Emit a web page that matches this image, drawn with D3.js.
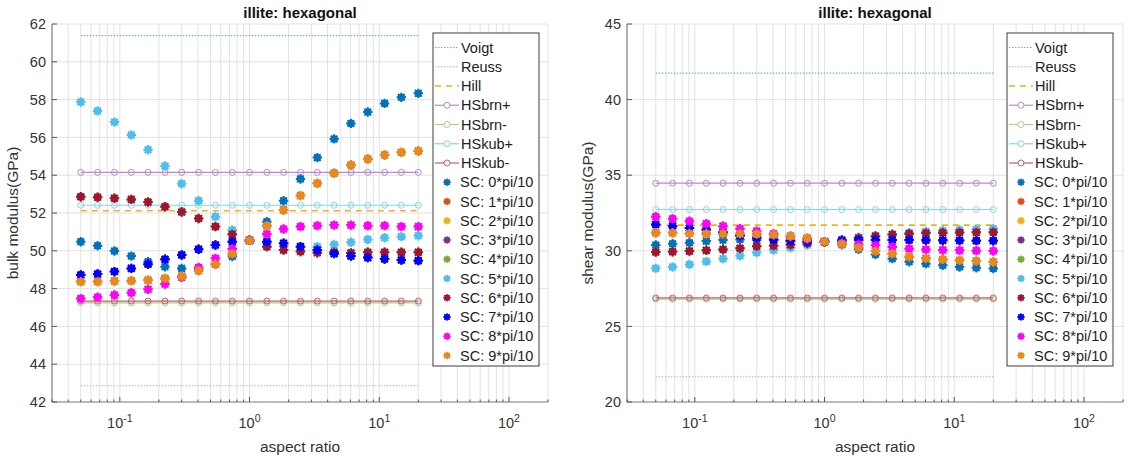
<!DOCTYPE html>
<html>
<head>
<meta charset="utf-8">
<script src="https://cdn.jsdelivr.net/npm/d3@7"></script>
<style>
  body { margin: 0; background: #fff; }
  svg { font-family: "Liberation Sans", Arial, sans-serif; }
</style>
</head>
<body>
<svg id="chart" width="1128" height="459"></svg>
<script>
// aspect ratios (x values, log spaced 0.05 .. 20)
var aspect = [0.05, 0.0674, 0.0909, 0.1226, 0.165, 0.223, 0.300, 0.405, 0.546, 0.736, 1,
    1.36, 1.83, 2.47, 3.33, 4.49, 6.05, 8.16, 11.0, 14.8, 20];

// bounds, one value each (drawn as flat lines across the aspect ratios)
var boundNames = ["Voigt", "Reuss", "Hill", "HSbrn+", "HSbrn-", "HSkub+", "HSkub-"];
var boundK = [61.38, 42.86, 52.12, 54.15, 47.24, 52.41, 47.34];
var boundG = [41.75, 21.67, 31.70, 34.47, 26.80, 32.73, 26.88];

// self-consistent results, bulk modulus (GPa)
var scK0 = [50.48, 50.27, 49.99, 49.72, 49.42, 49.16, 49.07, 49.05, 49.30, 49.70, 50.55,
    51.54, 52.65, 53.80, 54.93, 55.92, 56.74, 57.34, 57.80, 58.12, 58.33];
var scK5 = [57.87, 57.40, 56.81, 56.13, 55.35, 54.49, 53.55, 52.65, 51.80, 51.10, 50.55,
    50.40, 50.25, 50.20, 50.22, 50.33, 50.45, 50.60, 50.69, 50.75, 50.80];
var scK6 = [52.86, 52.83, 52.78, 52.72, 52.58, 52.33, 52.05, 51.71, 51.28, 50.87, 50.55,
    50.22, 50.04, 49.96, 49.90, 49.93, 49.89, 49.92, 49.92, 49.92, 49.92];
var scK7 = [48.72, 48.77, 48.90, 49.07, 49.29, 49.55, 49.78, 50.08, 50.31, 50.48, 50.55,
    50.48, 50.40, 50.22, 50.04, 49.85, 49.72, 49.64, 49.57, 49.51, 49.48];
var scK8 = [47.47, 47.54, 47.66, 47.78, 47.96, 48.24, 48.60, 49.12, 49.60, 50.10, 50.55,
    50.89, 51.15, 51.28, 51.33, 51.36, 51.36, 51.33, 51.33, 51.28, 51.28];
var scK9 = [48.37, 48.37, 48.40, 48.42, 48.45, 48.54, 48.66, 48.95, 49.29, 49.84, 50.55,
    51.33, 52.16, 52.92, 53.57, 54.10, 54.54, 54.86, 55.07, 55.21, 55.28];
// the angles k*pi/10 and (10-k)*pi/10 plot on top of each other
var scK1 = scK9, scK2 = scK8, scK3 = scK7, scK4 = scK6;

// self-consistent results, shear modulus (GPa)
var scG0 = [30.38, 30.47, 30.53, 30.64, 30.71, 30.75, 30.73, 30.70, 30.67, 30.63, 30.60,
    30.40, 30.10, 29.76, 29.48, 29.28, 29.15, 29.04, 28.93, 28.88, 28.83];
var scG5 = [28.84, 28.93, 29.10, 29.30, 29.48, 29.67, 29.88, 30.05, 30.20, 30.38, 30.60,
    30.75, 30.90, 31.00, 31.10, 31.20, 31.27, 31.33, 31.38, 31.42, 31.46];
var scG6 = [29.92, 29.94, 29.98, 30.03, 30.09, 30.17, 30.30, 30.34, 30.40, 30.50, 30.60,
    30.70, 30.85, 30.97, 31.08, 31.13, 31.17, 31.19, 31.21, 31.22, 31.23];
var scG7 = [31.74, 31.63, 31.50, 31.39, 31.22, 31.00, 30.86, 30.74, 30.66, 30.60, 30.60,
    30.68, 30.72, 30.71, 30.72, 30.71, 30.70, 30.69, 30.68, 30.67, 30.66];
var scG8 = [32.25, 32.12, 31.96, 31.79, 31.63, 31.46, 31.30, 31.12, 30.95, 30.78, 30.60,
    30.50, 30.42, 30.36, 30.25, 30.14, 30.09, 30.05, 30.03, 30.01, 29.99];
var scG9 = [31.19, 31.19, 31.15, 31.13, 31.13, 31.12, 31.10, 31.05, 30.97, 30.84, 30.60,
    30.45, 30.20, 29.98, 29.81, 29.61, 29.50, 29.43, 29.37, 29.32, 29.26];
var scG1 = scG9, scG2 = scG8, scG3 = scG7, scG4 = scG6;

var scNames = ["SC: 0*pi/10", "SC: 1*pi/10", "SC: 2*pi/10", "SC: 3*pi/10", "SC: 4*pi/10",
    "SC: 5*pi/10", "SC: 6*pi/10", "SC: 7*pi/10", "SC: 8*pi/10", "SC: 9*pi/10"];

var kTicks = [42, 44, 46, 48, 50, 52, 54, 56, 58, 60, 62];
var gTicks = [20, 25, 30, 35, 40, 45];
var xMajor = [0.1, 1, 10, 100];
var xExp = ["-1", "0", "1", "2"];

var boundColors = ["#6fb0e0", "#f2a184", "#edb120", "#b68bc6", "#a9d18f", "#88d2f2", "#c26270"];
var boundDash = ["1.5,1.5", "1.5,1.5", "6,5", null, null, null, null];
var scColors = ["#0072bd", "#d95319", "#edb120", "#7e2f8e", "#77ac30",
    "#4dbeee", "#a2142f", "#0000ff", "#ff00ff", "#e8891c"];

var svg = d3.select("#chart");

function starPath(r) {
    var a = r * 0.7071;
    return "M" + (-r) + ",0L" + r + ",0M0," + (-r) + "L0," + r +
        "M" + (-a) + "," + (-a) + "L" + a + "," + a + "M" + (-a) + "," + a + "L" + a + "," + (-a);
}

function drawPanel(p) {
    var g = svg.append("g");
    var x = d3.scaleLog().domain([0.03, 200]).range([p.left, p.left + 496]);
    var y = d3.scaleLinear().domain(p.yDomain).range([402, 24]);

    // minor + major vertical grid
    var minor = [];
    [0.01, 0.1, 1, 10, 100].forEach(function (dec) {
        for (var m = 1; m <= 9; m++) {
            var v = dec * m;
            if (v >= 0.03 && v <= 200) minor.push(v);
        }
    });
    g.selectAll(".vgrid").data(minor).enter().append("line")
        .attr("x1", d => x(d)).attr("x2", d => x(d))
        .attr("y1", 24).attr("y2", 402)
        .attr("stroke", "#e2e2e2").attr("stroke-width", 1);
    g.selectAll(".hgrid").data(p.yTicks).enter().append("line")
        .attr("x1", p.left).attr("x2", p.left + 496)
        .attr("y1", d => y(d)).attr("y2", d => y(d))
        .attr("stroke", "#e2e2e2").attr("stroke-width", 1);

    // bounds
    p.bounds.forEach(function (val, i) {
        var pts = aspect.map(a => [x(a), y(val)]);
        g.append("path").attr("d", d3.line()(pts))
            .attr("fill", "none").attr("stroke", boundColors[i])
            .attr("stroke-width", i == 2 ? 1.6 : 1.2)
            .attr("stroke-dasharray", boundDash[i]);
        if (i >= 3) {
            g.selectAll(".hs" + i).data(aspect).enter().append("circle")
                .attr("cx", d => x(d)).attr("cy", y(val)).attr("r", 3)
                .attr("fill", "none").attr("stroke", boundColors[i]).attr("stroke-width", 1);
        }
    });

    // self-consistent points
    p.sc.forEach(function (vals, k) {
        var pg = g.append("g");
        var pts = pg.selectAll("g").data(vals).enter().append("g")
            .attr("transform", (d, i) => "translate(" + x(aspect[i]) + "," + y(d) + ")");
        pts.append("circle").attr("r", 3.7).attr("fill", scColors[k]);
        pts.append("path").attr("d", starPath(4.7))
            .attr("stroke", scColors[k]).attr("stroke-width", 2).attr("fill", "none");
    });

    // axes
    g.append("line").attr("x1", p.left).attr("x2", p.left).attr("y1", 24).attr("y2", 402)
        .attr("stroke", "#858585").attr("stroke-width", 1.2);
    g.append("line").attr("x1", p.left).attr("x2", p.left + 496).attr("y1", 402).attr("y2", 402)
        .attr("stroke", "#858585").attr("stroke-width", 1.2);
    g.selectAll(".ytick").data(p.yTicks).enter().append("line")
        .attr("x1", p.left).attr("x2", p.left + 5)
        .attr("y1", d => y(d)).attr("y2", d => y(d)).attr("stroke", "#555");
    g.selectAll(".ylab").data(p.yTicks).enter().append("text")
        .attr("x", p.left - 6).attr("y", d => y(d)).attr("dy", "0.36em")
        .attr("text-anchor", "end").attr("font-size", "14.5px").attr("fill", "#333")
        .text(d => d);
    g.selectAll(".xmin").data(minor).enter().append("line")
        .attr("x1", d => x(d)).attr("x2", d => x(d))
        .attr("y1", 402).attr("y2", d => xMajor.indexOf(d) >= 0 ? 397 : 399.5)
        .attr("stroke", "#555");
    var xl = g.selectAll(".xlab").data(xMajor).enter().append("text")
        .attr("x", d => x(d)).attr("y", 428)
        .attr("text-anchor", "middle").attr("font-size", "14.5px").attr("fill", "#333");
    xl.append("tspan").text("10");
    xl.append("tspan").attr("dy", "-6").attr("font-size", "10.5px").text((d, i) => xExp[i]);

    // titles and labels
    g.append("text").attr("x", p.left + 248).attr("y", 18).attr("text-anchor", "middle")
        .attr("font-size", "15px").attr("font-weight", "bold").attr("fill", "#111")
        .text("illite: hexagonal");
    g.append("text").attr("x", p.left + 248).attr("y", 452).attr("text-anchor", "middle")
        .attr("font-size", "15.5px").attr("fill", "#333").text("aspect ratio");
    g.append("text").attr("transform", "translate(" + (p.left - 34) + ",213) rotate(-90)")
        .attr("text-anchor", "middle").attr("font-size", "15.5px").attr("fill", "#333")
        .text(p.ylabel);

    // legend
    var lx = p.legendX, ly = 33, rowH = 19.25;
    var lg = g.append("g");
    lg.append("rect").attr("x", lx).attr("y", ly).attr("width", 106).attr("height", 333)
        .attr("fill", "#fff").attr("stroke", "#3c3c3c").attr("stroke-width", 1);
    boundNames.forEach(function (name, i) {
        var cy = ly + 14.5 + i * rowH;
        lg.append("line").attr("x1", lx + 2).attr("x2", lx + 26).attr("y1", cy).attr("y2", cy)
            .attr("stroke", boundColors[i]).attr("stroke-width", i == 2 ? 1.6 : 1.2)
            .attr("stroke-dasharray", boundDash[i]);
        if (i >= 3) lg.append("circle").attr("cx", lx + 14).attr("cy", cy).attr("r", 3)
            .attr("fill", "#fff").attr("stroke", boundColors[i]);
        lg.append("text").attr("x", lx + 28).attr("y", cy).attr("dy", "0.36em")
            .attr("font-size", "14.5px").attr("fill", "#222").text(name);
    });
    scNames.forEach(function (name, k) {
        var cy = ly + 14.5 + (k + 7) * rowH;
        var mk = lg.append("g").attr("transform", "translate(" + (lx + 14) + "," + cy + ")");
        mk.append("circle").attr("r", 3).attr("fill", scColors[k]);
        mk.append("path").attr("d", starPath(3.8)).attr("stroke", scColors[k])
            .attr("stroke-width", 1.4);
        lg.append("text").attr("x", lx + 27).attr("y", cy).attr("dy", "0.36em")
            .attr("font-size", "14.5px").attr("fill", "#222").text(name);
    });
}

drawPanel({
    left: 52, yDomain: [42, 62], yTicks: kTicks, bounds: boundK,
    sc: [scK0, scK1, scK2, scK3, scK4, scK5, scK6, scK7, scK8, scK9],
    ylabel: "bulk modulus(GPa)", legendX: 433
});
drawPanel({
    left: 627, yDomain: [20, 45], yTicks: gTicks, bounds: boundG,
    sc: [scG0, scG1, scG2, scG3, scG4, scG5, scG6, scG7, scG8, scG9],
    ylabel: "shear modulus(GPa)", legendX: 1007
});
</script>
</body>
</html>
